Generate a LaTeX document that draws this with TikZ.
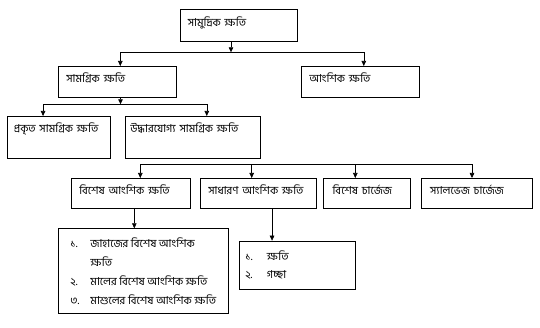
\documentclass[tikz,border=0pt]{standalone}
\usepackage{fontspec}
\usepackage{tikz}
\usetikzlibrary{arrows.meta}
\newfontfamily\bn[Script=Bengali]{Hind Siliguri}

\tikzset{
  box/.style={draw, line width=0.6pt, anchor=north west, align=left, inner xsep=8pt, inner ysep=0pt,
    text height=16.5pt, font=\bn\fontsize{11}{13}\selectfont},
  listbox/.style={draw, line width=0.6pt, anchor=north west, align=left, inner ysep=0pt},
  arr/.style={line width=0.6pt, -{Triangle[width=4.5pt,length=5pt]}}
}

\begin{document}
\begin{tikzpicture}[x=1pt, y=-1pt]
  \useasboundingbox (0,0) rectangle (540,328);
  % Top box
  \node[box, text width=101.5pt, text depth=15pt] (sea) at (179.5,9.5) {সামুদ্রিক ক্ষতি};
  % Second row
  \node[box, text width=102pt, text depth=14.5pt] (total) at (58,66) {সামগ্রিক ক্ষতি};
  \node[box, text width=101.5pt, text depth=14.5pt] (partial) at (301,66) {আংশিক ক্ষতি};
  % Kinds of total loss
  \node[box, inner xsep=7pt, text width=89.5pt, text depth=25.5pt] (actual) at (6.5,116) {প্রকৃত সামগ্রিক ক্ষতি};
  \node[box, inner xsep=5pt, text width=125pt, text depth=25.5pt] (constr) at (125,116) {উদ্ধারযোগ্য সামগ্রিক ক্ষতি};
  % Kinds of partial loss
  \node[box, text width=102.5pt, text depth=13.8pt] (particular) at (71,178) {বিশেষ আংশিক ক্ষতি};
  \node[box, text width=99.5pt, text depth=13.8pt] (general) at (200,178) {সাধারণ আংশিক ক্ষতি};
  \node[box, inner xsep=9pt, text width=68.7pt, text depth=13.8pt] (special) at (323.3,178) {বিশেষ চার্জেজ};
  \node[box, inner xsep=9pt, text width=93.6pt, text depth=13.8pt] (salvage) at (420.7,178) {স্যালভেজ চার্জেজ};
  % Lists
  \node[listbox, inner xsep=6pt, minimum width=170pt, minimum height=85pt, font=\bn\fontsize{11}{19}\selectfont] (list1) at (58,228.3)
    {\makebox[20pt][l]{১.}জাহাজের বিশেষ আংশিক\\ \hspace*{20pt}ক্ষতি\\
     \makebox[20pt][l]{২.}মালের বিশেষ আংশিক ক্ষতি\\ \makebox[20pt][l]{৩.}মাশুলের বিশেষ আংশিক ক্ষতি};
  \node[listbox, inner xsep=6pt, text width=104pt, minimum height=48.6pt, font=\bn\fontsize{11}{18.3}\selectfont] (list2) at (239,240.7)
    {\makebox[21.7pt][l]{১.}ক্ষতি\\ \makebox[21.7pt][l]{২.}গচ্ছা};

  % Junctions
  \coordinate (j1) at (231,52.3);
  \coordinate (j2) at (120.5,104.3);
  \coordinate (j3) at (251.7,164.3);
  \coordinate (a1) at ([xshift=3.75pt]particular.south);
  \coordinate (a2) at ([xshift=14pt]general.south);

  % Connectors
  \draw[arr] (sea.south -| j1) -- (j1);
  \draw[arr] (j1) -| ([xshift=3pt]total.north);
  \draw[arr] (j1) -| ([xshift=3.75pt]partial.north);
  \draw[arr] (total.south -| j2) -- (j2);
  \draw[arr] (j2) -| ([xshift=-15.5pt]actual.north);
  \draw[arr] (j2) -| ([xshift=14pt]constr.north);
  \draw[arr] (j3) -| ([xshift=9.75pt]particular.north);
  \draw[arr] (j3) -- (general.north -| j3);
  \draw[arr] (j3) -| ([xshift=-11.65pt]special.north);
  \draw[arr] (j3) -| ([xshift=-4.8pt]salvage.north);
  \draw[arr] (a1) -- (a1 |- list1.north);
  \draw[arr] (a2) -- (a2 |- list2.north);
\end{tikzpicture}
\end{document}
